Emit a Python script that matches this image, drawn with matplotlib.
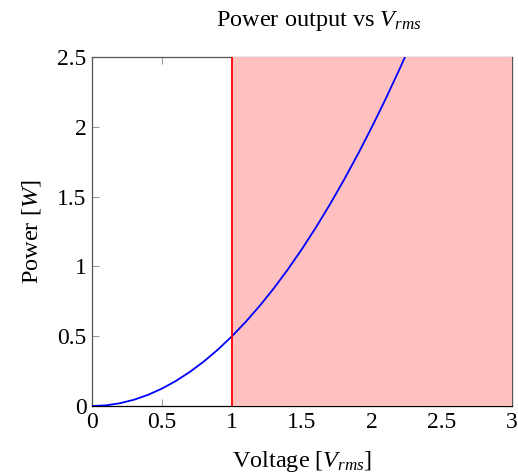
import matplotlib
matplotlib.use('Agg')
import matplotlib.pyplot as plt

# curve (P vs V)
voltage = [0.0, 0.1, 0.2, 0.3, 0.4, 0.5, 0.6, 0.7, 0.8, 0.9, 1.0, 1.1, 1.2,
           1.3, 1.4, 1.5, 1.6, 1.7, 1.8, 1.9, 2.0, 2.1, 2.2, 2.3]
power = [0.0, 0.005, 0.02, 0.045, 0.08, 0.125, 0.18, 0.245, 0.32, 0.405, 0.5,
         0.605, 0.72, 0.845, 0.98, 1.125, 1.28, 1.445, 1.62, 1.805, 2.0, 2.205,
         2.42, 2.645]
limit_v = 1.0
shade_range = [1.0, 3.0]
x_ticks = [0, 0.5, 1, 1.5, 2, 2.5, 3]
y_ticks = [0, 0.5, 1, 1.5, 2, 2.5]

plt.rcParams['font.family'] = ['Liberation Serif', 'DejaVu Serif']
plt.rcParams['mathtext.fontset'] = 'custom'
plt.rcParams['mathtext.rm'] = 'Liberation Serif'
plt.rcParams['mathtext.it'] = 'Liberation Serif:italic'
plt.rcParams['font.size'] = 16


def main():
    fig = plt.figure(figsize=(5.18, 4.73), dpi=100)
    ax = fig.add_axes([0.1776, 0.1416, 0.8108, 0.7379])

    ax.axvspan(shade_range[0], shade_range[1], color='#ffc0c0', lw=0, zorder=3)
    ax.plot(voltage, power, color='blue', lw=1.3, zorder=4)
    ax.axvline(limit_v, color='red', lw=1.3, zorder=5)

    ax.set_xlim(0, 3)
    ax.set_ylim(0, 2.5)
    ax.set_xticks(x_ticks)
    ax.set_yticks(y_ticks)
    ax.set_xticklabels(['0', '0.5', '1', '1.5', '2', '2.5', '3'])
    ax.set_yticklabels(['0', '0.5', '1', '1.5', '2', '2.5'])
    ax.tick_params(direction='in', length=5, width=0.8, color='#999999',
                   top=True, right=True, pad=4, labelsize=17)
    for s in ax.spines.values():
        s.set_color('#555555')
        s.set_linewidth(0.9)
        s.set_zorder(2)
    ax.spines['bottom'].set_color('black')

    ax.set_xlabel(r'Voltage $[V_{rms}]$', fontsize=17.5, labelpad=12)
    ax.set_ylabel(r'Power $[W]$', fontsize=17.5, labelpad=10)
    ax.set_title(r'Power output vs $V_{rms}$', fontsize=17.5, pad=22,
                 x=0.54)

    fig.savefig('out.png', dpi=100)


if __name__ == '__main__':
    main()
